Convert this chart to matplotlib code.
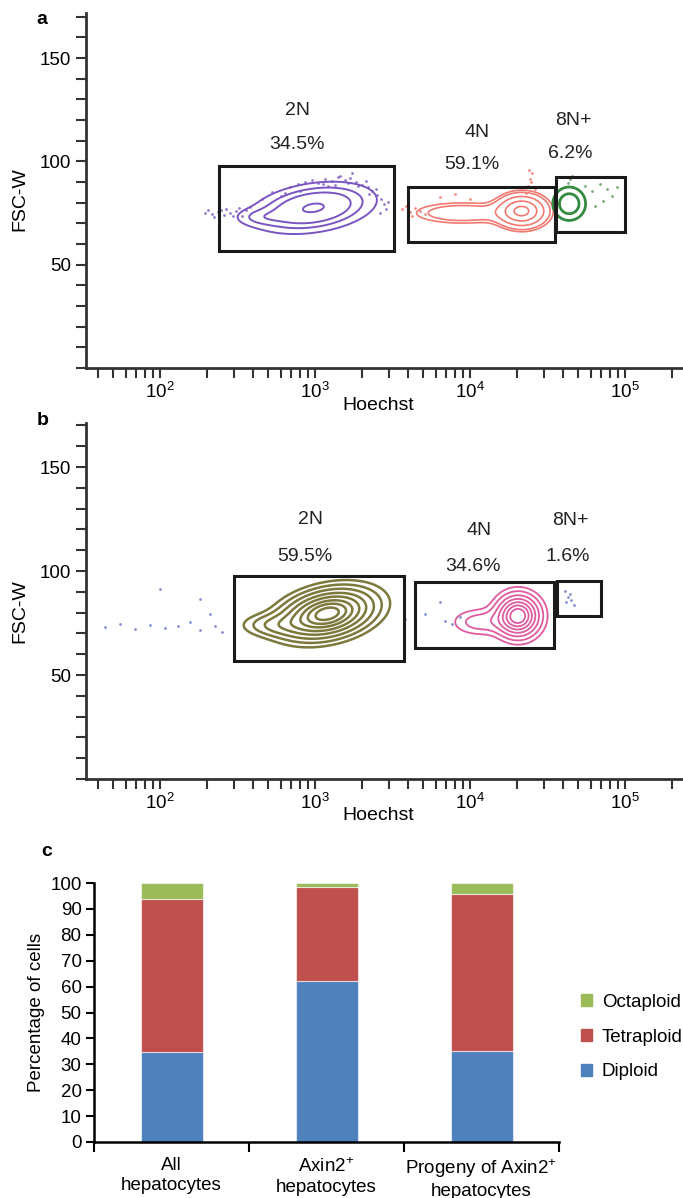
import matplotlib
matplotlib.use('Agg')
import matplotlib.pyplot as plt
from matplotlib.patches import Rectangle, Patch
from matplotlib.ticker import FixedLocator, MultipleLocator, LogLocator, NullFormatter
import numpy as np

plt.rcParams['font.family'] = ['Liberation Sans', 'DejaVu Sans']
plt.rcParams['mathtext.fontset'] = 'custom'
plt.rcParams['mathtext.rm'] = 'Liberation Sans'
plt.rcParams['mathtext.it'] = 'Liberation Sans:italic'
plt.rcParams['mathtext.bf'] = 'Liberation Sans:bold'
plt.rcParams['mathtext.default'] = 'regular'

# ---------------- flow cytometry panels (a, b) ----------------
gate_names = ['2N', '4N', '8N+']
pct_a = ['34.5%', '59.1%', '6.2%']
pct_b = ['59.5%', '34.6%', '1.6%']

# text positions (log10 Hoechst, FSC-W)
name_pos_a = [(2.884, 124.4), (4.045, 114.2), (4.665, 119.6)]
pct_pos_a = [(2.884, 108.4), (4.013, 98.3), (4.645, 104.0)]
name_pos_b = [(2.974, 125.0), (4.058, 119.7), (4.645, 124.5)]
pct_pos_b = [(2.935, 107.2), (4.019, 102.4), (4.632, 107.2)]

# gates: (x0, x1, y0, y1) in Hoechst units / FSC-W
gates_a = [(240, 3240, 56.6, 97.8), (3980, 35300, 61.0, 87.6), (35900, 100000, 65.8, 92.4)]
gates_b = [(300, 3750, 56.7, 97.6), (4420, 34800, 63.0, 94.7), (36400, 70000, 78.4, 95.2)]

# density components:
# (log10 centre, FSC-W centre, log10 spread, FSC-W spread, tilt, weight)
a_2n = [(2.99, 77.5, 0.21, 6.5, 0.3, 1.0), (2.64, 73.0, 0.10, 2.6, 0.0, 0.22)]
a_4n = [(4.335, 76.0, 0.09, 4.5, 0.0, 1.0), (3.95, 75.0, 0.20, 3.3, 0.0, 0.246)]
a_8n = [(4.64, 79.5, 0.068, 5.2, 0.0, 1.0)]
b_2n = [(3.08, 79.5, 0.18, 7.2, 0.3, 1.0), (2.72, 74.0, 0.13, 3.5, 0.0, 0.18)]
b_4n = [(4.31, 78.5, 0.085, 6.2, 0.0, 1.0), (4.06, 75.5, 0.11, 4.0, 0.0, 0.22)]

lev_a_2n = [0.15, 0.32, 0.52, 0.95]
lev_a_4n = [0.08, 0.13, 0.29, 0.56, 0.88]
lev_a_8n = [0.3, 0.65]
lev_b_2n = [0.08, 0.15, 0.25, 0.38, 0.52, 0.67, 0.8, 0.92]
lev_b_4n = [0.08, 0.16, 0.28, 0.42, 0.57, 0.72, 0.86]

# scattered events (log10 Hoechst, FSC-W)
dots_a_purple = [(2.290, 75.0), (2.335, 74.5), (2.374, 75.5), (2.413, 74.1), (2.452, 75.0),
                 (2.490, 76.1), (2.529, 73.6), (2.555, 76.6), (2.581, 77.9), (2.426, 77.0),
                 (2.348, 73.1), (2.310, 76.6), (2.806, 84.7), (2.839, 87.6), (2.890, 89.1),
                 (2.903, 85.7), (2.935, 90.0), (2.981, 91.0), (3.019, 89.5), (3.065, 91.5),
                 (3.084, 88.1), (3.110, 90.5), (3.148, 92.4), (3.161, 92.9), (3.194, 91.0),
                 (3.226, 92.0), (3.239, 94.4), (3.265, 90.0), (3.303, 88.6), (3.329, 90.5),
                 (3.342, 87.6), (3.368, 85.7), (3.394, 86.6), (3.400, 83.7), (3.426, 81.8),
                 (3.445, 79.4), (3.458, 77.0), (3.419, 75.0), (2.660, 82.0), (2.720, 85.0),
                 (3.050, 89.0), (3.130, 88.5), (3.210, 89.3), (3.280, 88.0), (3.350, 84.0),
                 (3.470, 80.5), (2.470, 73.5), (2.510, 77.5), (2.395, 76.3), (2.780, 83.0)]
dots_a_red = [(3.561, 77.0), (3.587, 78.4), (3.613, 75.5), (3.645, 77.4), (3.677, 76.0),
              (3.710, 74.5), (4.374, 88.1), (4.387, 91.5), (4.400, 94.4), (4.361, 84.7),
              (4.419, 86.6), (3.806, 82.8), (3.903, 84.2), (4.000, 81.8), (3.600, 79.5),
              (3.625, 73.8), (4.395, 90.0), (4.380, 96.0)]
dots_a_green = [(4.742, 88.1), (4.787, 85.7), (4.839, 89.1), (4.884, 86.6), (4.916, 83.3),
                (4.858, 80.8), (4.806, 78.4), (4.948, 87.6), (4.645, 91.5), (4.632, 89.5),
                (4.658, 92.9)]
dots_b_blue = [(1.645, 73.1), (1.742, 74.5), (1.839, 72.1), (1.935, 74.0), (2.032, 72.6),
               (2.116, 73.6), (2.194, 75.5), (2.258, 71.6), (2.355, 73.6), (2.400, 70.7),
               (2.000, 91.3), (2.258, 86.5), (2.323, 79.3), (3.581, 76.9), (3.710, 79.3),
               (3.806, 85.1), (3.839, 76.0), (3.884, 74.5), (3.935, 77.9), (4.613, 90.4),
               (4.632, 87.5), (4.652, 86.1), (4.619, 85.1), (4.671, 83.7), (4.645, 88.9)]

# ---------------- ploidy bar chart (c) ----------------
categories = ['All\nhepatocytes', 'Axin2$^{+}$\nhepatocytes', 'Progeny of Axin2$^{+}$\nhepatocytes']
diploid = [34.6, 62.1, 35.2]
tetraploid = [59.1, 36.2, 60.7]
octaploid = [6.3, 1.7, 4.1]

W, H = 683, 1198
fig = plt.figure(figsize=(W / 100, H / 100), dpi=100)

U = np.linspace(1.5, 5.45, 600)
Yg = np.linspace(0, 175, 600)
UU, YY = np.meshgrid(U, Yg)


def density(comps):
    Z = np.zeros_like(UU)
    for mu_u, mu_y, su, sy, rho, w in comps:
        du = (UU - mu_u) / su
        dy = (YY - mu_y) / sy
        q = (du ** 2 - 2 * rho * du * dy + dy ** 2) / (1 - rho ** 2)
        Z += w * np.exp(-0.5 * q)
    return Z / Z.max()


def flow_axes(rect, ytop):
    ax = fig.add_axes(rect)
    ax.set_xscale('log')
    ax.set_xlim(10 ** 1.5226, 10 ** 5.374)
    ax.set_ylim(0, ytop)
    for s in ['top', 'right']:
        ax.spines[s].set_visible(False)
    for s in ['left', 'bottom']:
        ax.spines[s].set_linewidth(2)
        ax.spines[s].set_color('#333333')
    ax.yaxis.set_major_locator(FixedLocator([50, 100, 150]))
    ax.yaxis.set_minor_locator(MultipleLocator(10))
    ax.xaxis.set_major_locator(LogLocator(base=10, numticks=10))
    ax.xaxis.set_minor_locator(LogLocator(base=10, subs=np.arange(2, 10), numticks=20))
    ax.xaxis.set_minor_formatter(NullFormatter())
    ax.tick_params(which='both', direction='out', length=7, width=1.5, color='#333333',
                   labelsize=13.5)
    ax.tick_params(axis='x', which='both', pad=3)
    ax.tick_params(axis='y', which='both', pad=4)
    return ax


def draw_contours(ax, comps, levels, color, lw):
    ax.contour(10 ** UU, YY, density(comps), levels=levels, colors=color, linewidths=lw)


def draw_dots(ax, dots, color):
    d = np.array(dots)
    ax.scatter(10 ** d[:, 0], d[:, 1], s=4, color=color, alpha=0.7, linewidths=0)


def draw_gates(ax, gates):
    for x0, x1, y0, y1 in gates:
        ax.add_patch(Rectangle((x0, y0), x1 - x0, y1 - y0, fill=False,
                               edgecolor='#1a1a1a', linewidth=2.2, zorder=5))


def draw_texts(ax, names, pcts, npos, ppos):
    for n, p, (nu, ny), (pu, py) in zip(names, pcts, npos, ppos):
        ax.text(10 ** nu, ny, n, ha='center', va='center', fontsize=14, color='#222222')
        ax.text(10 ** pu, py, p, ha='center', va='center', fontsize=14, color='#222222')


# panel a
ax_a = flow_axes([86 / W, 1 - 368 / H, (W - 86) / W, (368 - 13) / H], 171.8)
draw_dots(ax_a, dots_a_purple, '#6a3fb5')
draw_dots(ax_a, dots_a_red, '#ef5a50')
draw_dots(ax_a, dots_a_green, '#3a8a45')
draw_contours(ax_a, a_2n, lev_a_2n, '#7a55c2', 1.4)
draw_contours(ax_a, a_4n, lev_a_4n, '#f07a70', 1.2)
draw_contours(ax_a, a_8n, lev_a_8n, '#348a3e', 2.0)
draw_gates(ax_a, gates_a)
draw_texts(ax_a, gate_names, pct_a, name_pos_a, pct_pos_a)

# panel b
ax_b = flow_axes([86 / W, 1 - 779 / H, (W - 86) / W, (779 - 423) / H], 171.2)
draw_dots(ax_b, dots_b_blue, '#5060c0')
draw_contours(ax_b, b_2n, lev_b_2n, '#7d783c', 1.8)
draw_contours(ax_b, b_4n, lev_b_4n, '#e05aa0', 1.3)
draw_gates(ax_b, gates_b)
draw_texts(ax_b, gate_names, pct_b, name_pos_b, pct_pos_b)

for yl, yf in [(405, 199), (815, 611)]:
    fig.text(378 / W, 1 - yl / H, 'Hoechst', ha='center', va='center', fontsize=14)
    fig.text(20 / W, 1 - yf / H, 'FSC-W', ha='center', va='center', rotation=90, fontsize=14)

# panel c
ax_c = fig.add_axes([94 / W, 1 - 1142 / H, 465 / W, (1142 - 883) / H])
x = np.arange(len(categories))
bar_w = 0.4
ec = (1, 1, 1, 0.6)
ax_c.bar(x, diploid, bar_w, color='#4f81bd', edgecolor=ec, linewidth=0.8, label='Diploid')
ax_c.bar(x, tetraploid, bar_w, bottom=diploid, color='#c0504d', edgecolor=ec, linewidth=0.8,
         label='Tetraploid')
ax_c.bar(x, octaploid, bar_w, bottom=np.array(diploid) + np.array(tetraploid), color='#9bbb59',
         edgecolor=ec, linewidth=0.8, label='Octaploid')
ax_c.set_xlim(-0.5, 2.5)
ax_c.set_ylim(0, 100)
ax_c.yaxis.set_major_locator(MultipleLocator(10))
ax_c.set_xticks([-0.5, 0.5, 1.5, 2.5])
ax_c.set_xticklabels([])
ax_c.set_xticks(x, minor=True)
ax_c.set_xticklabels(categories, minor=True, fontsize=13.5)
ax_c.tick_params(axis='x', which='minor', length=0, pad=11)
ax_c.tick_params(axis='x', which='major', direction='out', length=7, width=1.5)
ax_c.tick_params(axis='y', direction='out', length=6, width=1.5, labelsize=13.5, pad=3)
for s in ['top', 'right']:
    ax_c.spines[s].set_visible(False)
for s in ['left', 'bottom']:
    ax_c.spines[s].set_linewidth(1.8)
ax_c.set_ylabel('Percentage of cells', fontsize=13.5, labelpad=4)

handles = [Patch(color='#9bbb59', label='Octaploid'),
           Patch(color='#c0504d', label='Tetraploid'),
           Patch(color='#4f81bd', label='Diploid')]
ax_c.legend(handles=handles, loc='center left', bbox_to_anchor=((581 - 94) / 465, 0.405),
            frameon=False, fontsize=13.5, handlelength=0.6, handleheight=0.6,
            handletextpad=0.5, labelspacing=0.95, borderpad=0, borderaxespad=0)

for lbl, px, py in [('a', 42, 19), ('b', 43, 421), ('c', 47, 852)]:
    fig.text(px / W, 1 - py / H, lbl, ha='center', va='center', fontsize=14, fontweight='bold')

fig.savefig('out.png', dpi=100)
